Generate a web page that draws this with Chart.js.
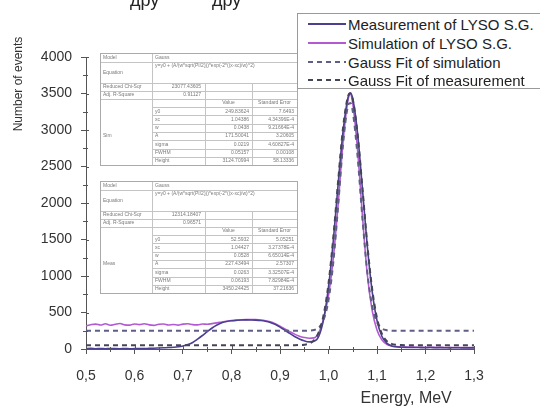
<!DOCTYPE html>
<html><head><meta charset="utf-8">
<script src="https://cdn.jsdelivr.net/npm/chart.js@4/dist/chart.umd.min.js"></script>
<style>
html,body{margin:0;padding:0;background:#fff;}
#wrap{position:relative;width:540px;height:408px;overflow:hidden;background:#fff;}
canvas{position:absolute;left:0;top:0;}
.top{position:absolute;top:-10px;font:18px "Liberation Sans",Arial,sans-serif;color:#222;white-space:nowrap;}
#legend{position:absolute;left:297px;top:13px;width:260px;height:74px;border:1px solid #9a9a9a;background:#fff;font:15px "Liberation Sans",Arial,sans-serif;color:#222;}
.row{position:absolute;left:0;height:19px;line-height:19px;width:260px;}
.ln{position:absolute;left:10px;width:38px;top:8px;height:2px;}
.tx{position:absolute;left:50px;top:0;white-space:nowrap;}
</style></head><body>
<div id="wrap">
<canvas id="c" width="540" height="408"></canvas>
<div class="top" style="left:130px">дру</div>
<div class="top" style="left:212px">дру</div>
<div id="legend"></div>
</div>
<script>
// ---- data ----
const energy = [0.50,0.51,0.52,0.53,0.54,0.55,0.56,0.57,0.58,0.59,0.60,0.61,0.62,0.63,0.64,0.65,0.66,0.67,0.68,0.69,0.70,0.71,0.72,0.73,0.74,0.75,0.76,0.77,0.78,0.79,0.80,0.81,0.82,0.83,0.84,0.85,0.86,0.87,0.88,0.89,0.90,0.91,0.92,0.93,0.94,0.95,0.96,0.97,0.98,0.99,1.00,1.01,1.02,1.03,1.04,1.045,1.05,1.06,1.07,1.08,1.09,1.10,1.11,1.12,1.13,1.14,1.15,1.16,1.17,1.18,1.19,1.20,1.21,1.22,1.23,1.24,1.25,1.26,1.27,1.28,1.29,1.30];
const measurement = [5,8,4,6,3,7,5,4,6,3,5,7,6,9,11,14,17,20,24,30,42,62,90,135,185,238,288,328,358,376,386,392,397,399,398,396,391,381,364,338,300,258,213,172,138,112,98,105,175,410,850,1490,2270,2980,3440,3505,3430,2950,2190,1410,790,390,175,80,42,30,25,22,20,21,19,18,20,17,19,18,16,18,17,15,16,15];
const simulation = [318,332,341,328,345,326,338,350,331,327,342,334,346,330,324,339,343,329,336,327,341,346,334,331,343,339,348,358,370,381,390,396,400,403,404,402,397,388,372,346,312,274,238,204,176,158,148,152,225,420,730,1250,1990,2840,3400,3490,3360,2720,1820,1020,530,260,125,65,40,32,28,26,27,24,25,23,24,22,23,21,22,20,21,20,19,20];
const gaussFitSimulation = [250,250,250,250,250,250,250,250,250,250,250,250,250,250,250,250,250,250,250,250,250,250,250,250,250,250,250,250,250,250,250,250,250,250,250,250,250,250,250,250,250,250,250,250,250,250,252,261,294,401,669,1193,1973,2805,3326,3371,3256,2635,1786,1053,591,367,283,257,251,250,250,250,250,250,250,250,250,250,250,250,250,250,250,250,250,250];
const gaussFitMeasurement = [53,53,53,53,53,53,53,53,53,53,53,53,53,53,53,53,53,53,53,53,53,53,53,53,53,53,53,53,53,53,53,53,53,53,53,53,53,53,53,53,53,53,53,53,54,58,74,118,230,469,897,1536,2311,3032,3457,3503,3423,2944,2201,1435,824,425,209,109,70,57,54,53,53,53,53,53,53,53,53,53,53,53,53,53,53,53];
const xTicks = [0.5,0.6,0.7,0.8,0.9,1.0,1.1,1.2,1.3];
const yTicks = [0,500,1000,1500,2000,2500,3000,3500,4000];
const seriesNames = ['Measurement of LYSO S.G.','Simulation of LYSO S.G.','Gauss Fit of simulation','Gauss Fit of measurement'];
const fitParamNames = ['y0','xc','w','A','sigma','FWHM','Height'];
const simFitStats = ['23077.43605','0.91127'];
const simFitValues = ['249.83624','1.04386','0.0438','171.50041','0.0219','0.05157','3124.70994'];
const simFitErrors = ['7.6493','4.34396E-4','9.21664E-4','3.20605','4.60827E-4','0.00108','58.13336'];
const measFitStats = ['12314.18407','0.96571'];
const measFitValues = ['52.5932','1.04427','0.0528','227.43494','0.0263','0.06193','3450.24425'];
const measFitErrors = ['5.05251','3.27378E-4','6.65014E-4','2.57307','3.32507E-4','7.82984E-4','37.21636'];
const fitEquation = 'y=y0 + (A/(w*sqrt(PI/2)))*exp(-2*((x-xc)/w)^2)';

const colMeas = '#4b3f8f', colSim = '#b35ad3', colSimFit = '#5e5e86', colMeasFit = '#45455a';
const FONT = '"Liberation Sans", Arial, sans-serif';

const pts = arr => energy.map((e, i) => ({x: e, y: arr[i]}));

// ---- HTML legend ----
const legendDefs = [
  {name: seriesNames[0], color: colMeas, dash: false},
  {name: seriesNames[1], color: colSim, dash: false},
  {name: seriesNames[2], color: colSimFit, dash: true},
  {name: seriesNames[3], color: colMeasFit, dash: true}
];
const legendEl = document.getElementById('legend');
const rowCenters = [10, 29, 48, 66];
legendDefs.forEach((d, i) => {
  const r = document.createElement('div');
  r.className = 'row';
  r.style.top = (rowCenters[i] - 9.5) + 'px';
  const l = document.createElement('div');
  l.className = 'ln';
  l.style.background = d.dash
    ? 'repeating-linear-gradient(to right,' + d.color + ' 0 5px, transparent 5px 9px)'
    : d.color;
  const t = document.createElement('div');
  t.className = 'tx';
  t.textContent = d.name;
  r.appendChild(l); r.appendChild(t);
  legendEl.appendChild(r);
});

// ---- extras: minor ticks, inward ticks, fit tables, y title ----
function drawTable(ctx, top, group, stats, vals, errs) {
  const L = 100, R = 297, c1 = 152, c2 = 205, c3 = 252, ph = 8.3;
  const bottom = top + 54 + 7 * ph;
  ctx.save();
  ctx.fillStyle = '#fff';
  ctx.fillRect(L, top, R - L, bottom - top);
  ctx.strokeStyle = '#c4c4c4';
  ctx.lineWidth = 1;
  const hl = (y, x0, x1) => { ctx.beginPath(); ctx.moveTo(x0, Math.round(y) + 0.5); ctx.lineTo(x1, Math.round(y) + 0.5); ctx.stroke(); };
  const vl = (x, y0, y1) => { ctx.beginPath(); ctx.moveTo(x + 0.5, y0); ctx.lineTo(x + 0.5, y1); ctx.stroke(); };
  hl(top + 9, L, R); hl(top + 30, L, R); hl(top + 38, L, R); hl(top + 46, L, R); hl(top + 54, c1, R);
  for (let i = 1; i < 7; i++) hl(top + 54 + i * ph, c1, R);
  vl(c1, top, bottom); vl(c2, top + 30, bottom); vl(c3, top + 30, bottom);
  ctx.strokeStyle = '#aaa';
  ctx.strokeRect(L + 0.5, top + 0.5, R - L, Math.round(bottom - top));
  ctx.fillStyle = '#7a7a7a';
  ctx.font = '5px ' + FONT;
  ctx.textBaseline = 'middle';
  ctx.textAlign = 'left';
  ctx.fillText('Model', L + 3, top + 4.5);
  ctx.fillText('Gauss', c1 + 3, top + 4.5);
  ctx.fillText('Equation', L + 3, top + 20);
  ctx.fillText(fitEquation, c1 + 3, top + 13);
  ctx.fillText('Reduced Chi-Sqr', L + 3, top + 34);
  ctx.fillText('Adj. R-Square', L + 3, top + 42);
  ctx.fillText(group, L + 3, top + 54 + 3.5 * ph);
  ctx.textAlign = 'right';
  ctx.fillText(stats[0], c2 - 4, top + 34);
  ctx.fillText(stats[1], c2 - 4, top + 42);
  ctx.textAlign = 'center';
  ctx.fillText('Value', (c2 + c3) / 2, top + 50);
  ctx.fillText('Standard Error', (c3 + R) / 2, top + 50);
  for (let i = 0; i < 7; i++) {
    const y = top + 54 + (i + 0.5) * ph;
    ctx.textAlign = 'left';
    ctx.fillText(fitParamNames[i], c1 + 3, y);
    ctx.textAlign = 'right';
    ctx.fillText(vals[i], c3 - 3, y);
    ctx.fillText(errs[i], R - 3, y);
  }
  ctx.restore();
}

const extras = {
  id: 'extras',
  afterDraw(chart) {
    const ctx = chart.ctx, xs = chart.scales.x, ys = chart.scales.y, a = chart.chartArea;
    ctx.save();
    ctx.strokeStyle = '#555';
    ctx.lineWidth = 1;
    ctx.beginPath();
    for (let v = 250; v < 4000; v += 500) {
      const py = Math.round(ys.getPixelForValue(v)) + 0.5;
      ctx.moveTo(a.left - 3, py); ctx.lineTo(a.left + 2, py);
    }
    yTicks.forEach(v => {
      const py = Math.round(ys.getPixelForValue(v)) + 0.5;
      ctx.moveTo(a.left, py); ctx.lineTo(a.left + 3, py);
    });
    for (let k = 0; k < xTicks.length - 1; k++) {
      const px = Math.round(xs.getPixelForValue((xTicks[k] + xTicks[k + 1]) / 2)) + 0.5;
      ctx.moveTo(px, a.bottom + 3); ctx.lineTo(px, a.bottom - 2);
    }
    xTicks.forEach(v => {
      const px = Math.round(xs.getPixelForValue(v)) + 0.5;
      ctx.moveTo(px, a.bottom); ctx.lineTo(px, a.bottom - 3);
    });
    ctx.stroke();
    ctx.restore();

    drawTable(ctx, 53, 'Sim', simFitStats, simFitValues, simFitErrors);
    drawTable(ctx, 181, 'Meas', measFitStats, measFitValues, measFitErrors);

    ctx.save();
    ctx.translate(19, 84);
    ctx.rotate(-Math.PI / 2);
    ctx.font = '12px ' + FONT;
    ctx.fillStyle = '#333';
    ctx.textAlign = 'center';
    ctx.textBaseline = 'middle';
    ctx.fillText('Number of events', 0, 0);
    ctx.restore();
  }
};

new Chart(document.getElementById('c'), {
  type: 'line',
  data: {
    datasets: [
      {label: seriesNames[3], data: pts(gaussFitMeasurement), borderColor: colMeasFit, borderWidth: 2, borderDash: [5, 4], pointRadius: 0, cubicInterpolationMode: 'monotone', fill: false},
      {label: seriesNames[2], data: pts(gaussFitSimulation), borderColor: colSimFit, borderWidth: 2, borderDash: [5, 4], pointRadius: 0, cubicInterpolationMode: 'monotone', fill: false},
      {label: seriesNames[0], data: pts(measurement), borderColor: colMeas, borderWidth: 1.6, pointRadius: 0, cubicInterpolationMode: 'monotone', fill: false},
      {label: seriesNames[1], data: pts(simulation), borderColor: colSim, borderWidth: 1.6, pointRadius: 0, cubicInterpolationMode: 'monotone', fill: false}
    ]
  },
  options: {
    responsive: false,
    animation: false,
    devicePixelRatio: 1,
    events: [],
    layout: {padding: {left: 0, top: 57, right: 66, bottom: 0}},
    plugins: {legend: {display: false}, tooltip: {enabled: false}},
    scales: {
      x: {
        type: 'linear', min: 0.5, max: 1.3,
        afterBuildTicks: s => { s.ticks = xTicks.map(v => ({value: v})); },
        afterFit: s => { s.height = 59; },
        grid: {display: true, drawOnChartArea: false, drawTicks: true, tickLength: 5, color: '#555'},
        border: {display: true, color: '#555', width: 1},
        ticks: {padding: 14, color: '#333', font: {family: FONT, size: 14}, maxRotation: 0,
          callback: v => v.toFixed(1).replace('.', ',')},
        title: {display: true, text: 'Energy, MeV\u00a0\u00a0\u00a0\u00a0\u00a0', align: 'end', color: '#333',
          font: {family: FONT, size: 16}, padding: {top: 0, bottom: 0}}
      },
      y: {
        type: 'linear', min: 0, max: 4000,
        afterBuildTicks: s => { s.ticks = yTicks.map(v => ({value: v})); },
        afterFit: s => { s.width = 86; },
        grid: {display: true, drawOnChartArea: false, drawTicks: true, tickLength: 5, color: '#555'},
        border: {display: true, color: '#555', width: 1},
        ticks: {padding: 9, color: '#333', font: {family: FONT, size: 14}, callback: v => String(v)},
        title: {display: false}
      }
    }
  },
  plugins: [extras]
});
</script>
</body></html>
